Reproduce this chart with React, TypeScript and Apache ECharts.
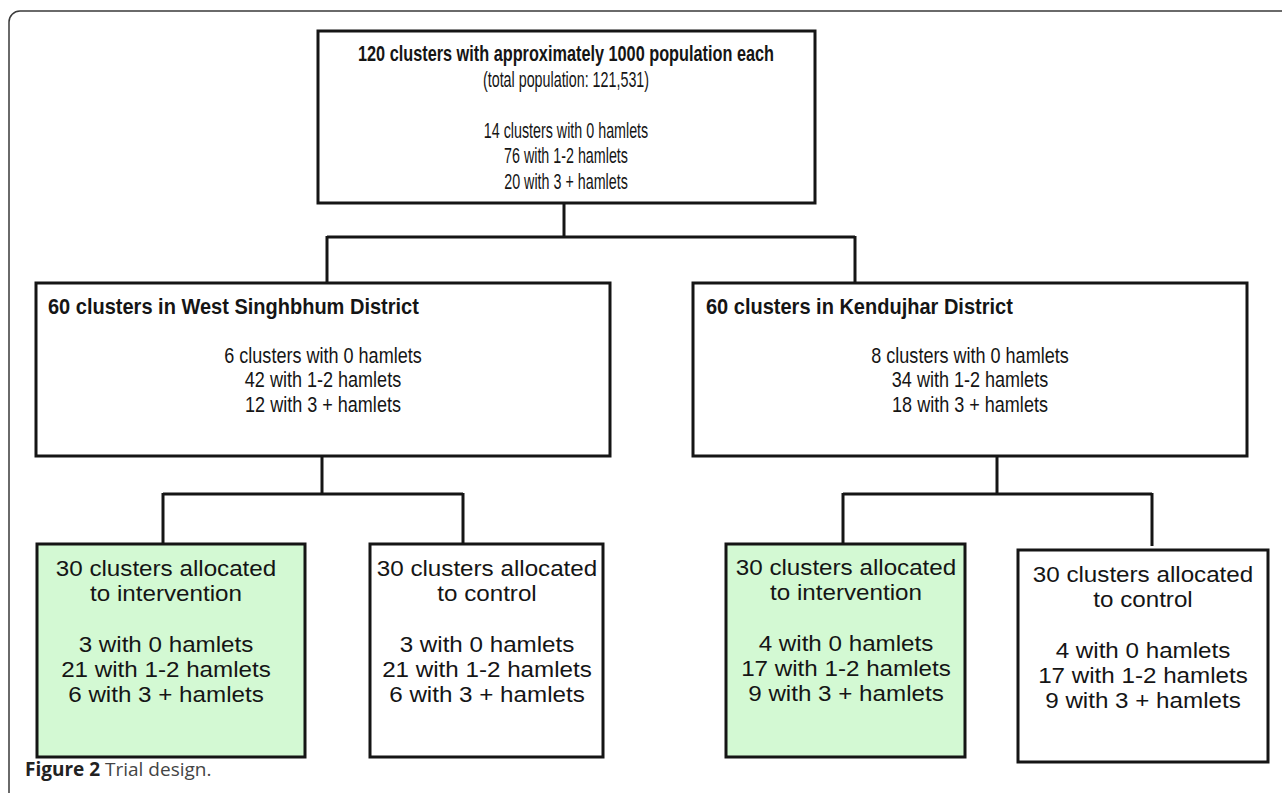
import React, { useEffect, useRef } from "react";
import * as echarts from "echarts";

// ---- data (texts of the flow diagram) ----
const topTitle = "120 clusters with approximately 1000 population each";
const topLines = ["(total population: 121,531)", "", "14 clusters with 0 hamlets", "76 with 1-2 hamlets", "20 with 3 + hamlets"];
const westTitle = "60 clusters in West Singhbhum District";
const westLines = ["6 clusters with 0 hamlets", "42 with 1-2 hamlets", "12 with 3 + hamlets"];
const kenTitle = "60 clusters in Kendujhar District";
const kenLines = ["8 clusters with 0 hamlets", "34 with 1-2 hamlets", "18 with 3 + hamlets"];
const westInt = ["30 clusters allocated", "to intervention", "", "3 with 0 hamlets", "21 with 1-2 hamlets", "6 with 3 + hamlets"];
const westCtl = ["30 clusters allocated", "to control", "", "3 with 0 hamlets", "21 with 1-2 hamlets", "6 with 3 + hamlets"];
const kenInt = ["30 clusters allocated", "to intervention", "", "4 with 0 hamlets", "17 with 1-2 hamlets", "9 with 3 + hamlets"];
const kenCtl = ["30 clusters allocated", "to control", "", "4 with 0 hamlets", "17 with 1-2 hamlets", "9 with 3 + hamlets"];
const captionBold = "Figure 2";
const captionText = " Trial design.";

const FONT = "'Liberation Sans', Arial, sans-serif";
const INK = "#151515";
const GREEN = "#d3f9d3";

function rect(x: number, y: number, w: number, h: number, fill: string) {
  return {
    type: "rect",
    shape: { x, y, width: w, height: h },
    style: { fill, stroke: INK, lineWidth: 3 },
  };
}

function line(x1: number, y1: number, x2: number, y2: number) {
  return {
    type: "line",
    shape: { x1, y1, x2, y2 },
    style: { stroke: INK, lineWidth: 3 },
  };
}

function txt(s: string, x: number, y: number, bold: boolean, align: string, size: number, sx: number) {
  return {
    type: "text",
    x,
    y,
    scaleX: sx,
    style: {
      text: s,
      fill: INK,
      font: `${bold ? "bold " : ""}${size}px ${FONT}`,
      textAlign: align,
      textVerticalAlign: "middle",
    },
  };
}

function lines(arr: string[], cx: number, y0: number, step: number, size: number, sx: number) {
  return arr
    .map((s, i) => (s ? txt(s, cx, y0 + i * step, false, "center", size, sx) : null))
    .filter(Boolean);
}

export default function App() {
  const ref = useRef<HTMLDivElement>(null);
  useEffect(() => {
    if (!ref.current) return;
    const chart = echarts.init(ref.current, null, { renderer: "svg" });
    const els: any[] = [];
    // outer frame
    els.push({
      type: "rect",
      shape: { x: 9, y: 11, width: 1400, height: 900, r: [11, 0, 0, 0] },
      style: { fill: "none", stroke: "#3a3a3a", lineWidth: 1.5 },
    });
    // boxes
    els.push(rect(318, 31, 497, 172, "#fff"));
    els.push(rect(36, 283, 574, 173, "#fff"));
    els.push(rect(693, 283, 554, 173, "#fff"));
    els.push(rect(37, 544, 268, 213, GREEN));
    els.push(rect(370, 544, 233, 213, "#fff"));
    els.push(rect(726, 544, 239, 213, GREEN));
    els.push(rect(1018, 550, 250, 212, "#fff"));
    // connectors
    els.push(line(564, 203, 564, 237));
    els.push(line(327, 237, 855, 237));
    els.push(line(327, 236, 327, 283));
    els.push(line(855, 236, 855, 283));
    els.push(line(322, 456, 322, 494));
    els.push(line(163, 494, 463, 494));
    els.push(line(163, 493, 163, 544));
    els.push(line(463, 493, 463, 544));
    els.push(line(997, 456, 997, 494));
    els.push(line(843, 494, 1152, 494));
    els.push(line(843, 493, 843, 544));
    els.push(line(1152, 493, 1152, 546));
    // texts
    els.push(txt(topTitle, 566, 53, true, "center", 22, 0.74));
    els.push(...lines(topLines, 566, 79, 25.5, 22, 0.65));
    els.push(txt(westTitle, 48, 306, true, "left", 22, 0.91));
    els.push(...lines(westLines, 323, 355, 24.5, 22, 0.82));
    els.push(txt(kenTitle, 706, 306, true, "left", 22, 0.91));
    els.push(...lines(kenLines, 970, 355, 24.5, 22, 0.82));
    els.push(...lines(westInt, 166, 568, 25.3, 22, 1.1));
    els.push(...lines(westCtl, 487, 568, 25.3, 22, 1.1));
    els.push(...lines(kenInt, 846, 567, 25.3, 22, 1.1));
    els.push(...lines(kenCtl, 1143, 574, 25.3, 22, 1.1));
    // caption
    els.push({
      type: "text",
      x: 25,
      y: 769,
      style: {
        text: `{b|${captionBold}}{n|${captionText}}`,
        textVerticalAlign: "middle",
        rich: {
          b: { font: "bold 19px 'Open Sans', sans-serif", fill: "#222" },
          n: { font: "19px 'Open Sans', sans-serif", fill: "#444" },
        },
      },
    });
    chart.setOption({ animation: false, backgroundColor: "#fff", graphic: { elements: els } });
    return () => chart.dispose();
  }, []);
  return (
    <div
      ref={ref}
      style={{ position: "fixed", left: 0, top: 0, width: 1282, height: 793 }}
    />
  );
}
